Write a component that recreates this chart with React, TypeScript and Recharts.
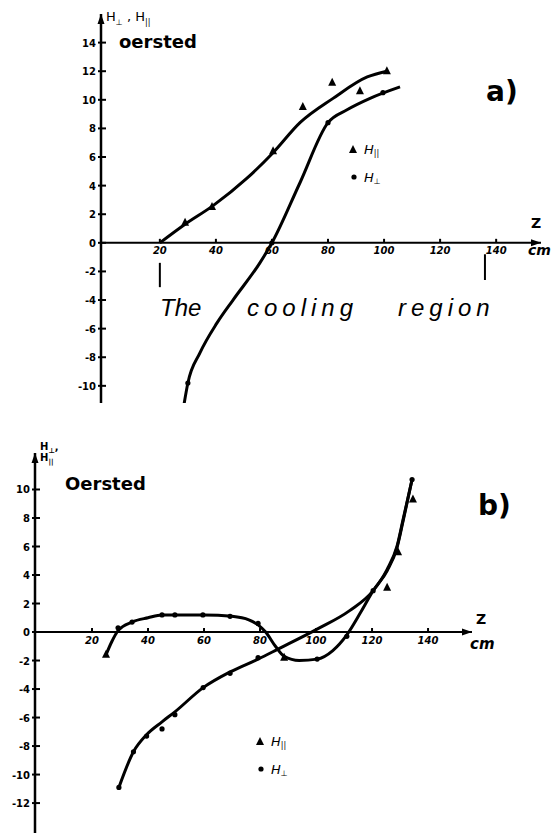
import {
  ComposedChart,
  Line,
  Scatter,
  XAxis,
  YAxis,
  ReferenceLine,
  ReferenceDot,
  Legend,
} from "recharts";

// a) measured H∥ (triangles) and H⊥ (dots) along z
const aParPoints = [
  { z: 29, h: 1.4 },
  { z: 38.6, h: 2.5 },
  { z: 60.4, h: 6.4 },
  { z: 71, h: 9.5 },
  { z: 81.5, h: 11.2 },
  { z: 91.4, h: 10.6 },
  { z: 101, h: 12.0 },
];
const aPerpPoints = [
  { z: 30, h: -9.8 },
  { z: 60, h: 0 },
  { z: 80, h: 8.4 },
  { z: 99.6, h: 10.5 },
];
// hand-fitted curves through the measurements
const aParCurve = [
  { z: 20, h: 0 },
  { z: 29, h: 1.3 },
  { z: 39, h: 2.6 },
  { z: 51, h: 4.5 },
  { z: 60.4, h: 6.3 },
  { z: 70, h: 8.4 },
  { z: 81.8, h: 10.1 },
  { z: 94, h: 11.6 },
  { z: 101, h: 12.0 },
];
const aPerpCurve = [
  { z: 28.2, h: -11.8 },
  { z: 30, h: -9.8 },
  { z: 34.3, h: -7.7 },
  { z: 40.4, h: -5.6 },
  { z: 46.1, h: -4.0 },
  { z: 55.7, h: -1.4 },
  { z: 60, h: 0 },
  { z: 70, h: 4.2 },
  { z: 80, h: 8.4 },
  { z: 86.8, h: 9.3 },
  { z: 95, h: 10.1 },
  { z: 105.7, h: 10.9 },
];
const aYTicks = [14, 12, 10, 8, 6, 4, 2, 0, -2, -4, -6, -8, -10];
const coolingBounds = [20, 136];

// b) second run
const bParPoints = [
  { z: 25, h: -1.6 },
  { z: 88.6, h: -1.8 },
  { z: 125.4, h: 3.1 },
  { z: 129.3, h: 5.6 },
  { z: 134.6, h: 9.3 },
];
const bPerpPoints = [
  { z: 29.6, h: -10.9 },
  { z: 34.8, h: -8.4 },
  { z: 39.5, h: -7.3 },
  { z: 45, h: -6.8 },
  { z: 49.6, h: -5.8 },
  { z: 59.7, h: -3.9 },
  { z: 69.3, h: -2.9 },
  { z: 79.3, h: -1.8 },
  { z: 29.3, h: 0.3 },
  { z: 34.3, h: 0.7 },
  { z: 45, h: 1.2 },
  { z: 49.6, h: 1.2 },
  { z: 59.6, h: 1.2 },
  { z: 69.3, h: 1.1 },
  { z: 79.3, h: 0.6 },
  { z: 100.4, h: -1.9 },
  { z: 111, h: -0.3 },
  { z: 120.4, h: 2.9 },
  { z: 134.3, h: 10.7 },
];
const bParCurve = [
  { z: 25, h: -1.6 },
  { z: 27, h: -0.7 },
  { z: 29.3, h: 0.1 },
  { z: 34.3, h: 0.7 },
  { z: 40, h: 1.0 },
  { z: 45, h: 1.2 },
  { z: 60, h: 1.2 },
  { z: 70, h: 1.1 },
  { z: 76, h: 0.85 },
  { z: 79.3, h: 0.5 },
  { z: 82, h: 0 },
  { z: 85.5, h: -1.0 },
  { z: 88.6, h: -1.7 },
  { z: 94, h: -2.0 },
  { z: 100.4, h: -1.9 },
  { z: 106, h: -1.3 },
  { z: 111, h: -0.2 },
  { z: 116, h: 1.4 },
  { z: 120.4, h: 2.9 },
  { z: 125.4, h: 4.3 },
  { z: 128.9, h: 5.9 },
  { z: 131.1, h: 7.8 },
  { z: 134.3, h: 10.7 },
];
const bPerpCurve = [
  { z: 29.6, h: -10.9 },
  { z: 34.8, h: -8.4 },
  { z: 39.5, h: -7.2 },
  { z: 45, h: -6.3 },
  { z: 49.6, h: -5.6 },
  { z: 59.7, h: -3.9 },
  { z: 69.3, h: -2.8 },
  { z: 79.3, h: -1.9 },
  { z: 86.4, h: -1.2 },
  { z: 100.4, h: 0.2 },
  { z: 112, h: 1.5 },
  { z: 120.4, h: 2.9 },
  { z: 125.4, h: 4.4 },
  { z: 128.9, h: 6.0 },
  { z: 131.1, h: 7.9 },
  { z: 134.3, h: 10.7 },
];
const bYTicks = [10, 8, 6, 4, 2, 0, -2, -4, -6, -8, -10, -12];

const zTicks = [20, 40, 60, 80, 100, 120, 140];

const INK = "#000";
const FONT = "'DejaVu Sans', sans-serif";
const PAR = "||";
const PERP = "⊥";

const Triangle = (p: any) => (
  <path
    d={`M${p.cx},${p.cy - 5} L${p.cx + 4},${p.cy + 3} L${p.cx - 4},${p.cy + 3} Z`}
    fill={INK}
  />
);
const Dot = (p: any) => <circle cx={p.cx} cy={p.cy} r={2.6} fill={INK} />;

const YTick = (p: any) => (
  <g>
    <line x1={p.x - 3} x2={p.x + 5} y1={p.y} y2={p.y} stroke={INK} strokeWidth={2} />
    <text
      x={p.x - 5}
      y={p.y}
      dy={4}
      textAnchor="end"
      fontSize={10}
      fontWeight="bold"
      fontFamily={FONT}
      fill={INK}
    >
      {p.payload.value}
    </text>
  </g>
);

const zTickShape = (label: number, dy: number) => (p: any) => (
  <g>
    <line x1={p.cx} x2={p.cx} y1={p.cy - 4} y2={p.cy} stroke={INK} strokeWidth={2} />
    <text
      x={p.cx}
      y={p.cy + dy}
      textAnchor="middle"
      fontSize={10}
      fontStyle="italic"
      fontWeight="bold"
      fontFamily={FONT}
      fill={INK}
    >
      {label}
    </text>
  </g>
);

const arrowRight = (p: any) => (
  <path d={`M${p.cx},${p.cy} L${p.cx - 10},${p.cy - 3.5} L${p.cx - 10},${p.cy + 3.5} Z`} fill={INK} />
);
const arrowUp = (p: any) => (
  <path d={`M${p.cx},${p.cy} L${p.cx - 3.5},${p.cy + 10} L${p.cx + 3.5},${p.cy + 10} Z`} fill={INK} />
);

const LegendBox = () => (
  <svg width={60} height={48}>
    <path d="M7,5 L11,13 L3,13 Z" fill={INK} />
    <text x={18} y={14} fontSize={13} fontStyle="italic" fontFamily={FONT} fill={INK}>
      H<tspan fontSize={8} dy={2}>{PAR}</tspan>
    </text>
    <circle cx={8} cy={37} r={2.6} fill={INK} />
    <text x={18} y={42} fontSize={13} fontStyle="italic" fontFamily={FONT} fill={INK}>
      H<tspan fontSize={8} dy={2}>{PERP}</tspan>
    </text>
  </svg>
);

const note = (left: number, top: number, size: number, extra: any = {}) => ({
  position: "absolute" as const,
  left,
  top,
  fontSize: size,
  lineHeight: 1,
  fontFamily: FONT,
  color: INK,
  whiteSpace: "nowrap" as const,
  ...extra,
});

const HAND = "'Liberation Sans', sans-serif";

function PanelA() {
  const xDom: [number, number] = [-1, 156];
  const yDom: [number, number] = [-11.2, 16];
  return (
    <div style={{ position: "absolute", left: 0, top: 0, width: 551, height: 420 }}>
      <ComposedChart width={551} height={420} margin={{ top: 14, right: 10, bottom: 17, left: 0 }}>
        <XAxis type="number" dataKey="z" domain={xDom} allowDataOverflow hide />
        <YAxis
          type="number"
          dataKey="h"
          domain={yDom}
          allowDataOverflow
          width={101}
          ticks={aYTicks}
          interval={0}
          tickSize={0}
          tickMargin={0}
          tickLine={false}
          axisLine={{ stroke: INK, strokeWidth: 2.5 }}
          tick={<YTick />}
        />
        <ReferenceLine y={0} stroke={INK} strokeWidth={2} />
        {zTicks.map((t) => (
          <ReferenceDot key={t} x={t} y={0} r={0} shape={zTickShape(t, 11)} />
        ))}
        <ReferenceDot x={xDom[1]} y={0} r={0} ifOverflow="visible" shape={arrowRight} />
        <ReferenceDot x={xDom[0]} y={yDom[1]} r={0} ifOverflow="visible" shape={arrowUp} />
        <ReferenceLine
          segment={[
            { x: coolingBounds[0], y: -1.4 },
            { x: coolingBounds[0], y: -3.1 },
          ]}
          stroke={INK}
          strokeWidth={2}
        />
        <ReferenceLine
          segment={[
            { x: coolingBounds[1], y: -0.8 },
            { x: coolingBounds[1], y: -2.6 },
          ]}
          stroke={INK}
          strokeWidth={2}
        />
        <Line data={aParCurve} dataKey="h" type="monotone" stroke={INK} strokeWidth={3} dot={false} activeDot={false} isAnimationActive={false} />
        <Line data={aPerpCurve} dataKey="h" type="monotone" stroke={INK} strokeWidth={3} dot={false} activeDot={false} isAnimationActive={false} />
        <Scatter data={aParPoints} shape={Triangle} isAnimationActive={false} />
        <Scatter data={aPerpPoints} shape={Dot} isAnimationActive={false} />
        <Legend
          layout="vertical"
          align="center"
          verticalAlign="middle"
          wrapperStyle={{ left: 346, top: 140, width: 60 }}
          content={() => <LegendBox />}
        />
      </ComposedChart>
      <div style={note(106, 10, 13)}>
        H<sub style={{ fontSize: 8 }}>{PERP}</sub> , H<sub style={{ fontSize: 8 }}>{PAR}</sub>
      </div>
      <div style={note(119, 33, 18, { fontWeight: "bold" })}>oersted</div>
      <div style={note(486, 78, 28, { fontWeight: "bold" })}>a)</div>
      <div style={note(531, 216, 14, { fontWeight: "bold" })}>Z</div>
      <div style={note(528, 243, 14, { fontWeight: "bold", fontStyle: "italic" })}>cm</div>
      <div style={note(160, 296, 24, { fontStyle: "italic", fontFamily: HAND })}>The</div>
      <div style={note(247, 296, 24, { fontStyle: "italic", letterSpacing: 5, fontFamily: HAND })}>cooling</div>
      <div style={note(398, 296, 24, { fontStyle: "italic", letterSpacing: 5, fontFamily: HAND })}>region</div>
    </div>
  );
}

function PanelB() {
  const xDom: [number, number] = [-0.36, 155.7];
  const yDom: [number, number] = [-14.1, 12.56];
  return (
    <div style={{ position: "absolute", left: 0, top: 420, width: 551, height: 417 }}>
      <ComposedChart width={551} height={417} margin={{ top: 33, right: 79, bottom: 4, left: 0 }}>
        <XAxis type="number" dataKey="z" domain={xDom} allowDataOverflow hide />
        <YAxis
          type="number"
          dataKey="h"
          domain={yDom}
          allowDataOverflow
          width={35}
          ticks={bYTicks}
          interval={0}
          tickSize={0}
          tickMargin={0}
          tickLine={false}
          axisLine={{ stroke: INK, strokeWidth: 2.5 }}
          tick={<YTick />}
        />
        <ReferenceLine y={0} stroke={INK} strokeWidth={2} />
        {zTicks.map((t) => (
          <ReferenceDot key={t} x={t} y={0} r={0} shape={zTickShape(t, 12)} />
        ))}
        <ReferenceDot x={xDom[1]} y={0} r={0} ifOverflow="visible" shape={arrowRight} />
        <ReferenceDot x={xDom[0]} y={yDom[1]} r={0} ifOverflow="visible" shape={arrowUp} />
        <Line data={bParCurve} dataKey="h" type="monotone" stroke={INK} strokeWidth={3} dot={false} activeDot={false} isAnimationActive={false} />
        <Line data={bPerpCurve} dataKey="h" type="monotone" stroke={INK} strokeWidth={3} dot={false} activeDot={false} isAnimationActive={false} />
        <Scatter data={bParPoints} shape={Triangle} isAnimationActive={false} />
        <Scatter data={bPerpPoints} shape={Dot} isAnimationActive={false} />
        <Legend
          layout="vertical"
          align="center"
          verticalAlign="middle"
          wrapperStyle={{ left: 253, top: 312, width: 60 }}
          content={() => <LegendBox />}
        />
      </ComposedChart>
      <div style={note(40, 22, 10, { fontWeight: "bold" })}>
        H<sub style={{ fontSize: 7 }}>{PERP}</sub>,
      </div>
      <div style={note(40, 33, 10, { fontWeight: "bold" })}>
        H<sub style={{ fontSize: 7 }}>{PAR}</sub>
      </div>
      <div style={note(65, 55, 18, { fontWeight: "bold" })}>Oersted</div>
      <div style={note(478, 72, 28, { fontWeight: "bold" })}>b)</div>
      <div style={note(476, 192, 14, { fontWeight: "bold" })}>Z</div>
      <div style={note(470, 217, 15, { fontWeight: "bold", fontStyle: "italic" })}>cm</div>
    </div>
  );
}

export default function App() {
  return (
    <div
      style={{
        position: "absolute",
        left: 0,
        top: 0,
        width: 551,
        height: 837,
        background: "#fff",
        overflow: "hidden",
      }}
    >
      <PanelA />
      <PanelB />
    </div>
  );
}
